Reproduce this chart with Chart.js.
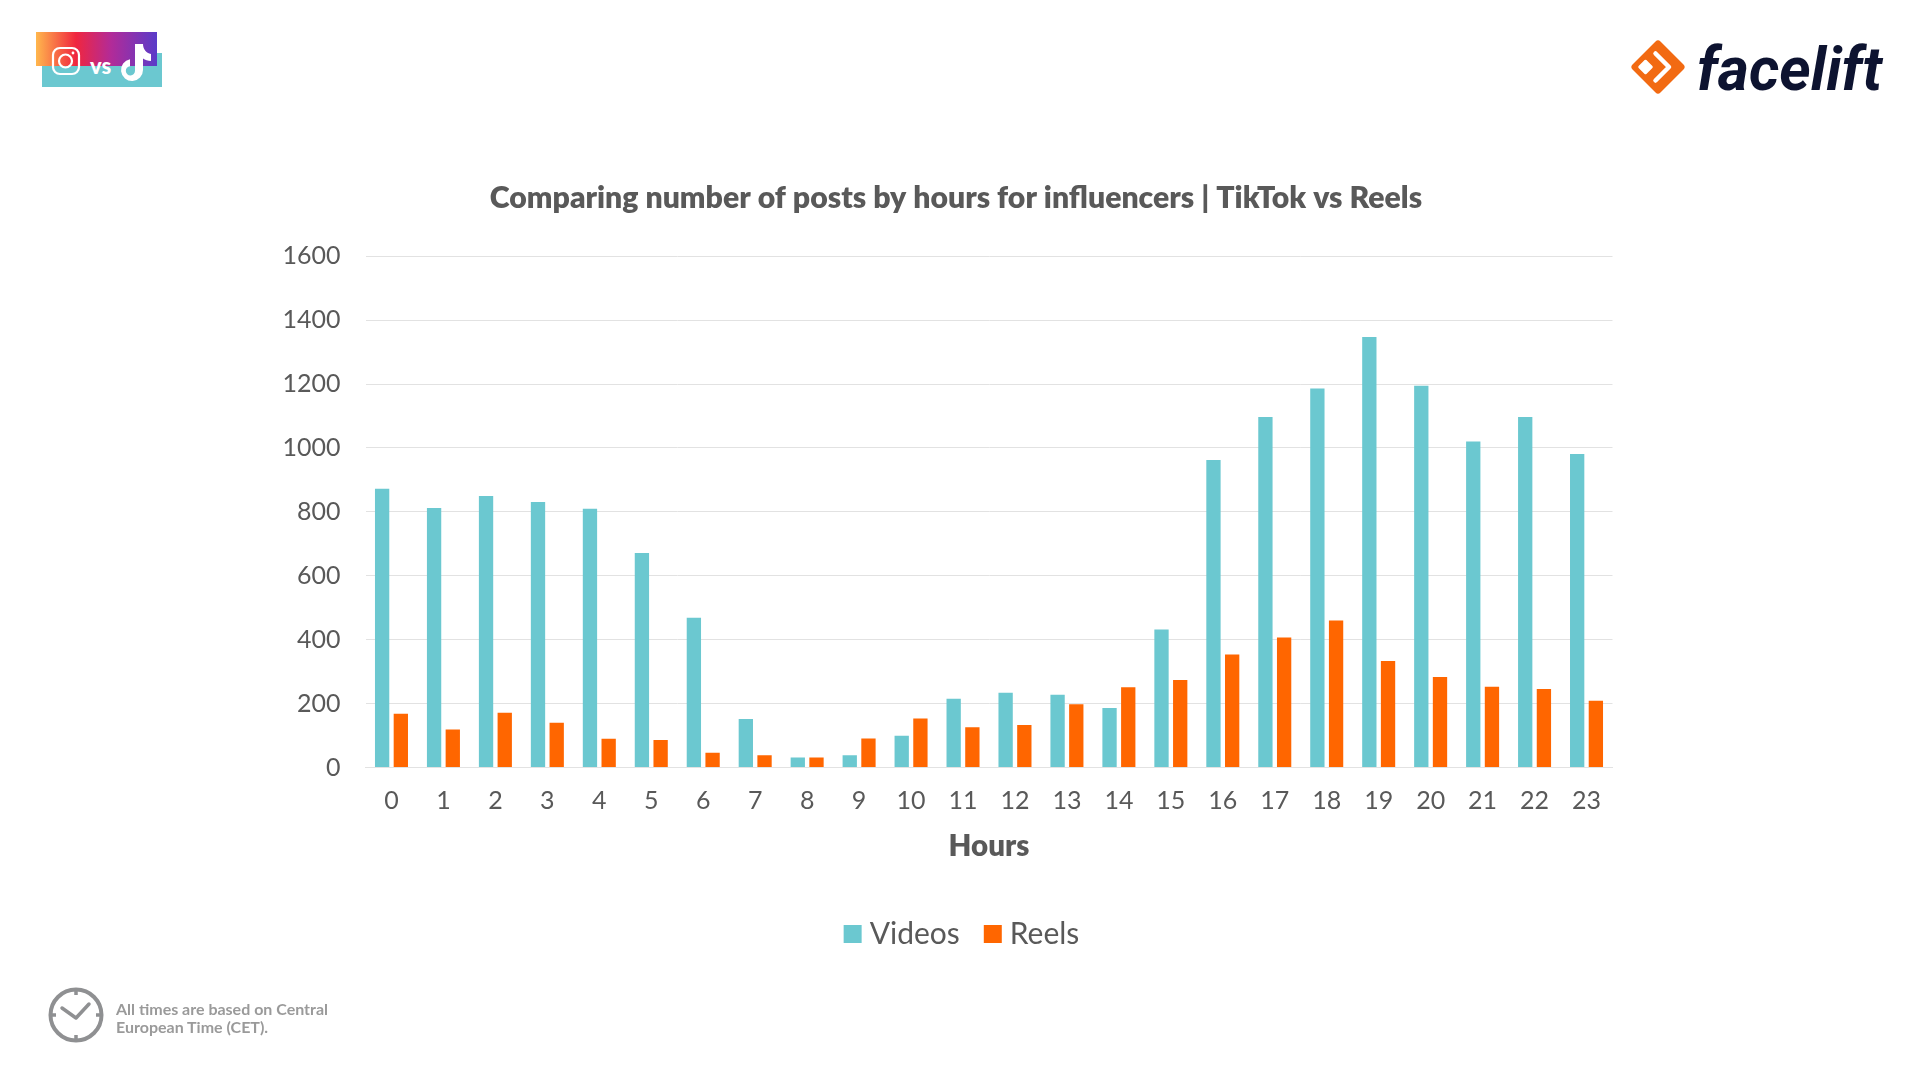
<!DOCTYPE html>
<html>
<head>
<meta charset="utf-8">
<style>
  html, body { margin: 0; padding: 0; background: #fff; }
  #wrap { position: relative; width: 1920px; height: 1080px; overflow: hidden; }
  #chart { position: absolute; left: 0; top: 0; }
  .abs { position: absolute; }
  #brand { left: 1697px; top: 34px; font: italic 700 60px Roboto, sans-serif; color: #0d1330; }
  #note { left: 116px; top: 1000px; font: 700 16px/18px Lato, sans-serif; color: #9a9a9a; }
  #vs { left: 90px; top: 52px; font: 900 22px Lato, sans-serif; color: #fff; }
</style>
</head>
<body>
<div id="wrap">
  <canvas id="chart" width="1920" height="1080"></canvas>

  <svg class="abs" style="left:0;top:0" width="200" height="100">
    <defs>
      <linearGradient id="insta" x1="0" x2="1" y1="0" y2="0">
        <stop offset="0" stop-color="#ffb74d"/>
        <stop offset="0.33" stop-color="#f0263f"/>
        <stop offset="0.62" stop-color="#b22b98"/>
        <stop offset="1" stop-color="#5a3bc9"/>
      </linearGradient>
    </defs>
    <rect x="42" y="53" width="120" height="34" fill="#6bc8d0"/>
    <rect x="36" y="32" width="121" height="34" fill="url(#insta)"/>
    <rect x="53" y="48" width="26" height="26" rx="7" fill="none" stroke="#fff" stroke-width="2.2"/>
    <circle cx="65.5" cy="61" r="6.5" fill="none" stroke="#fff" stroke-width="2.2"/>
    <circle cx="73" cy="53" r="1.4" fill="#fff"/>
    <path d="M135 44 h8 c0 5 3 9 8 10 v7 c-3 0 -6 -1 -8 -2.5 v11.5 a11 11 0 1 1 -13 -10.8 v7 a4.6 4.6 0 1 0 5 4.5 z" fill="#fff"/>
  </svg>
  <div id="vs" class="abs">vs</div>

  <svg class="abs" style="left:1625px;top:34px" width="66" height="66" viewBox="0 0 66 66">
    <path d="M33 10 L56 33 L33 56 L10 33 Z" fill="#f26a12" stroke="#f26a12" stroke-width="7" stroke-linejoin="round"/>
    <path d="M30.5 19.5 L44 33 L30.5 46.5" fill="none" stroke="#fff" stroke-width="4.5" stroke-linecap="round" stroke-linejoin="round"/>
    <path d="M20.5 27 L26.5 33 L20.5 39 L14.5 33 Z" fill="#fff" stroke="#fff" stroke-width="2.5" stroke-linejoin="round"/>
  </svg>
  <div id="brand" class="abs">facelift</div>

  <svg class="abs" style="left:45px;top:985px" width="62" height="62" viewBox="0 0 62 62">
    <circle cx="31" cy="30" r="25.5" fill="none" stroke="#8f9092" stroke-width="4"/>
    <path d="M31 4 v6 M31 50 v6 M5 30 h6 M51 30 h6" stroke="#8f9092" stroke-width="3.5"/>
    <path d="M17 23 L31 33 L44 19" fill="none" stroke="#8f9092" stroke-width="3.5" stroke-linecap="round" stroke-linejoin="round"/>
  </svg>
  <div id="note" class="abs">All times are based on Central<br>European Time (CET).</div>
</div>

<script src="https://cdn.jsdelivr.net/npm/chart.js@4/dist/chart.umd.min.js"></script>
<script>
const hours = ['0','1','2','3','4','5','6','7','8','9','10','11','12','13','14','15','16','17','18','19','20','21','22','23'];
const videos = [872,812,850,831,810,671,469,152,31,38,99,215,234,228,186,432,962,1097,1186,1347,1195,1020,1097,981];
const reels = [168,119,171,140,90,86,46,38,31,91,153,126,133,198,251,274,354,407,460,333,283,253,246,209];

const textGrey = '#595959';
const gridGrey = '#e2e2e2';

// title and legend are not quite centred on the page in the original
const centreNudge = {
    id: 'centreNudge',
    afterLayout(chart) {
        chart.titleBlock.left -= 8;
        chart.legend.left += 10;
    }
};

new Chart(document.getElementById('chart').getContext('2d'), {
    type: 'bar',
    plugins: [centreNudge],
    data: {
        labels: hours,
        datasets: [
            { label: 'Videos', data: videos, backgroundColor: '#6bc8d0', categoryPercentage: 0.72, barPercentage: 0.765 },
            { label: 'Reels', data: reels, backgroundColor: '#ff6600', categoryPercentage: 0.72, barPercentage: 0.765 }
        ]
    },
    options: {
        responsive: false,
        animation: false,
        layout: { padding: { left: 0, right: 0, top: 0, bottom: 121 } },
        plugins: {
            title: {
                display: true,
                text: 'Comparing number of posts by hours for influencers | TikTok vs Reels',
                color: textGrey,
                font: { family: 'Lato', size: 30.2, weight: '800' },
                padding: { top: 180, bottom: 40 }
            },
            legend: {
                position: 'bottom',
                labels: {
                    color: textGrey,
                    font: { family: 'Lato', size: 30 },
                    usePointStyle: true,
                    pointStyle: 'rect',
                    boxWidth: 4,
                    boxHeight: 18,
                    padding: 31
                }
            },
            tooltip: { enabled: false }
        },
        scales: {
            x: {
                grid: { display: false },
                border: { color: gridGrey },
                ticks: { color: textGrey, font: { family: 'Lato', size: 25 }, padding: 10.5, maxRotation: 0 },
                title: {
                    display: true,
                    text: 'Hours',
                    color: textGrey,
                    font: { family: 'Lato', size: 29.5, weight: '800' },
                    padding: { top: 4, bottom: 23.5 }
                },
                afterFit(scale) { scale.height = 120.5; }
            },
            y: {
                min: 0,
                max: 1600,
                grid: { color: gridGrey, drawTicks: false },
                border: { display: false },
                ticks: {
                    stepSize: 200,
                    color: textGrey,
                    font: { family: 'Lato', size: 25 },
                    padding: 25,
                    callback: v => String(v)
                },
                afterFit(scale) { scale.width = 365.5; }
            },
            // empty axis, keeps the plot off the right side without moving title and legend
            rightGap: {
                position: 'right',
                grid: { display: false },
                border: { display: false },
                ticks: { display: false },
                afterFit(scale) { scale.width = 307.5; }
            }
        }
    }
});
</script>
</body>
</html>
